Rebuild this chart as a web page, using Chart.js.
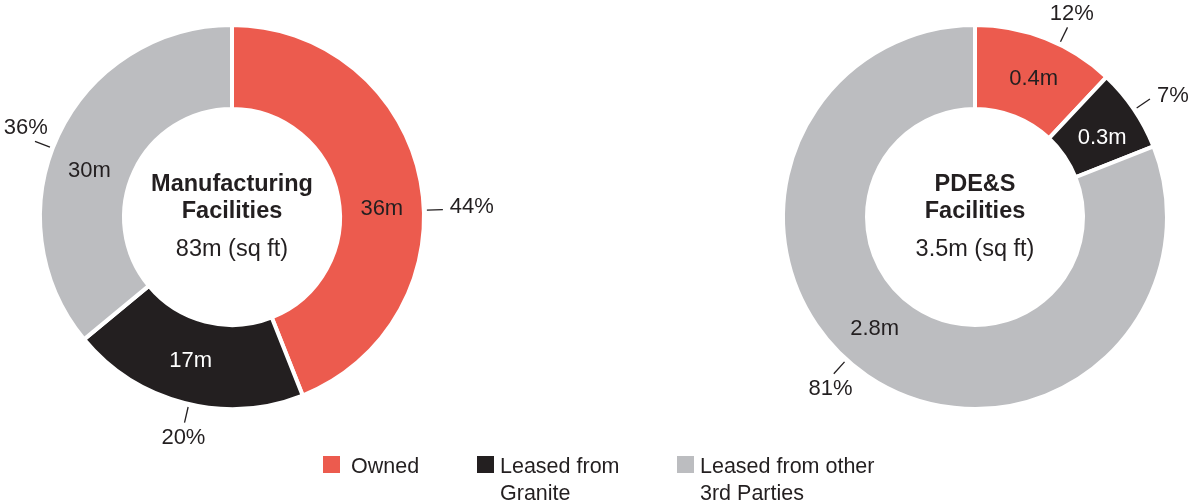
<!DOCTYPE html>
<html>
<head>
<meta charset="utf-8">
<script src="https://cdn.jsdelivr.net/npm/chart.js@4"></script>
<style>
  html, body { margin: 0; padding: 0; background: #fff; }
  body { width: 1188px; height: 502px; position: relative; overflow: hidden;
         font-family: "Liberation Sans", Arial, sans-serif; color: #231f20; }
  canvas { position: absolute; top: 0; }
  #mfg { left: 0; }
  #pde { left: 594px; }
  .legend { position: absolute; top: 453px; font-size: 21.5px; line-height: 27px; }
  .legend span { position: absolute; top: 3px; width: 17px; height: 17px; }
  .legend div { position: absolute; white-space: nowrap; }
</style>
</head>
<body>
<canvas id="mfg" width="594" height="502"></canvas>
<canvas id="pde" width="594" height="502"></canvas>
<div id="legend"></div>
<script>
// Data
const categories = ["Owned", "Leased from Granite", "Leased from other 3rd Parties"];
const legendLines = [["Owned"], ["Leased from", "Granite"], ["Leased from other", "3rd Parties"]];
const colors = ["#ec5b4e", "#231f20", "#bcbdc0"];

const mfgShare = [44, 20, 36];      // %
const mfgArea = [36, 17, 30];       // m sq ft
const mfgTitle = ["Manufacturing", "Facilities"];
const mfgTotal = "83m (sq ft)";

const pdeShare = [12, 7, 81];
const pdeArea = [0.4, 0.3, 2.8];
const pdeTitle = ["PDE&S", "Facilities"];
const pdeTotal = "3.5m (sq ft)";

// label layout (degrees clockwise from top)
const mfgValueAngle = [87, 196, 288];
const mfgPctAngle = [88, 193, 291];
const mfgPctSide = ["right", "below", "above"];
const pdeValueAngle = [23, 58, 222];
const pdePctAngle = [26, 56, 222];
const pdePctSide = ["above", "right", "below"];

const font = '"Liberation Sans", Arial, sans-serif';

const labelPlugin = {
  id: "labels",
  afterDraw(chart) {
    const o = chart.options.plugins.labels;
    const ctx = chart.ctx;
    const arcs = chart.getDatasetMeta(0).data;
    const cx = arcs[0].x, cy = arcs[0].y;
    const R = arcs[0].outerRadius - 2;
    const r0 = arcs[0].innerRadius + 2;
    const mid = (R + r0) / 2;
    ctx.save();

    arcs.forEach((arc, i) => {
      // value inside the ring
      let a = o.valueAngle[i] * Math.PI / 180;
      ctx.font = "22px " + font;
      ctx.fillStyle = i === 1 ? "#fff" : "#231f20";
      ctx.textAlign = "center";
      ctx.textBaseline = "middle";
      ctx.fillText(o.area[i] + "m", cx + mid * Math.sin(a), cy - mid * Math.cos(a));

      // leader line + percent
      a = o.pctAngle[i] * Math.PI / 180;
      const s = Math.sin(a), c = Math.cos(a);
      const x1 = cx + (R + 5) * s, y1 = cy - (R + 5) * c;
      const x2 = cx + (R + 21) * s, y2 = cy - (R + 21) * c;
      ctx.strokeStyle = "#231f20";
      ctx.lineWidth = 1.3;
      ctx.beginPath();
      ctx.moveTo(x1, y1);
      ctx.lineTo(x2, y2);
      ctx.stroke();

      ctx.fillStyle = "#231f20";
      const txt = o.share[i] + "%";
      const side = o.side[i];
      if (side === "right") {
        ctx.textAlign = "left";
        ctx.fillText(txt, x2 + 7, y2 - 3);
      } else if (side === "above") {
        ctx.textAlign = "center";
        ctx.fillText(txt, x2 + s * 10, y2 - 13);
      } else {
        ctx.textAlign = "center";
        ctx.fillText(txt, x2 + s * 5, y2 + 15);
      }
    });

    // centre text
    ctx.fillStyle = "#231f20";
    ctx.textAlign = "center";
    ctx.textBaseline = "middle";
    ctx.font = "bold 23.5px " + font;
    ctx.fillText(o.title[0], cx, cy - 32);
    ctx.fillText(o.title[1], cx, cy - 5);
    ctx.font = "23.5px " + font;
    ctx.fillText(o.total, cx, cy + 33);
    ctx.restore();
  },
};

function makeDonut(id, share, area, title, total, valueAngle, pctAngle, side, pad) {
  return new Chart(document.getElementById(id), {
    type: "doughnut",
    data: {
      labels: categories,
      datasets: [{
        data: share,
        backgroundColor: colors,
        borderColor: "#fff",
        borderWidth: 4,
        hoverOffset: 0,
      }],
    },
    options: {
      responsive: false,
      animation: false,
      cutout: 108,
      layout: { padding: pad },
      plugins: {
        legend: { display: false },
        tooltip: { enabled: false },
        labels: { share, area, title, total, valueAngle, pctAngle, side },
      },
    },
    plugins: [labelPlugin],
  });
}

makeDonut("mfg", mfgShare, mfgArea, mfgTitle, mfgTotal, mfgValueAngle, mfgPctAngle, mfgPctSide,
  { left: 38, top: 23, right: 168, bottom: 91 });
makeDonut("pde", pdeShare, pdeArea, pdeTitle, pdeTotal, pdeValueAngle, pdePctAngle, pdePctSide,
  { left: 187, top: 23, right: 19, bottom: 91 });

// Legend
const legendX = [323, 477, 677];
const legend = document.getElementById("legend");
legendLines.forEach((lines, i) => {
  const item = document.createElement("div");
  item.className = "legend";
  item.style.left = legendX[i] + "px";
  item.innerHTML = `<span style="background:${colors[i]}"></span>
    <div style="left:${i === 0 ? 28 : 23}px">${lines.join("<br>")}</div>`;
  legend.appendChild(item);
});
</script>
</body>
</html>
